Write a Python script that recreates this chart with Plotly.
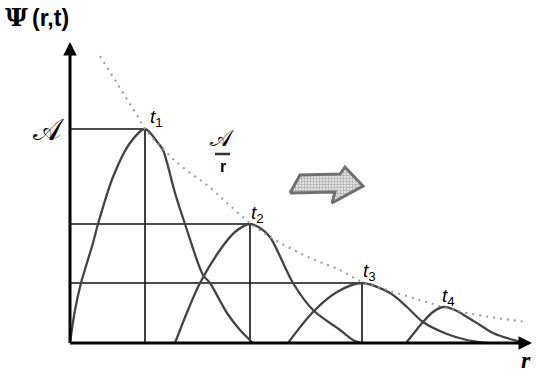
import plotly.graph_objects as go

# Pulse profiles psi(r) at four successive times t1..t4 (arbitrary units)
r_t1 = [0, 0.5, 1.1, 2.3, 2.8, 4.3, 6.0, 7.5, 8.8, 9.3, 10.5, 11.5, 13.3, 14.0, 15.7, 17.0, 18.3]
psi_t1 = [0, 3.3, 6.0, 10.0, 11.9, 16.6, 20.0, 21.4, 20.0, 19.3, 15.0, 11.9, 6.8, 6.0, 3.0, 1.3, 0]

r_t2 = [10.5, 11.8, 13.0, 15.0, 16.5, 18.0, 19.0, 20.0, 22.3, 24.3, 27.0, 28.3, 29.2]
psi_t2 = [0, 3.3, 6.0, 9.3, 11.1, 11.9, 11.5, 10.6, 6.0, 3.3, 1.3, 0.3, 0]

r_t3 = [21.8, 24.3, 26.7, 29.2, 32.0, 33.7, 35.3, 37.7, 39.7, 41.7]
psi_t3 = [0, 3.1, 5.1, 6.0, 5.0, 3.6, 2.1, 0.9, 0.3, 0]

r_t4 = [33.6, 34.4, 35.3, 36.3, 37.3, 38.5, 39.7, 41.0, 42.3, 44.0, 45.7]
psi_t4 = [0, 1.0, 2.1, 3.1, 3.6, 3.3, 2.6, 1.8, 1.0, 0.4, 0]

# Amplitude envelope A/r through the peaks
r_env = [3.0, 5.0, 6.8, 7.5, 9.7, 11.0, 12.3, 13.7, 15.7, 18.0, 20.0, 24.0, 27.0, 29.2,
         31.7, 35.0, 37.3, 39.7, 42.7, 45.7]
psi_env = [28.7, 25.5, 22.6, 21.4, 19.0, 17.8, 16.8, 15.8, 14.0, 12.0, 10.6, 8.5, 7.3, 6.1,
           5.3, 4.3, 3.6, 3.0, 2.5, 2.1]

# Peak positions and their labels
peak_r = [7.5, 18.0, 29.2, 37.3]
peak_psi = [21.4, 11.9, 6.0, 3.6]
peak_labels = ["1", "2", "3", "4"]
guided_peaks = 3  # peaks with drop lines to the axes

# Outline of the propagation-direction arrow
arrow_r = [22.0, 23.0, 27.0, 27.5, 29.3, 26.2, 26.5, 22.0]
arrow_psi = [15.0, 16.8, 16.9, 17.6, 15.7, 14.0, 15.1, 15.0]

axis_r_end = 46.2
axis_psi_end = 30.1

fig = go.Figure()

curve_style = dict(color="#444444", width=2.3, shape="spline", smoothing=0.85)
for rs, ps in [(r_t1, psi_t1), (r_t2, psi_t2), (r_t3, psi_t3), (r_t4, psi_t4)]:
    fig.add_trace(go.Scatter(x=rs, y=ps, mode="lines", line=curve_style,
                             hoverinfo="skip", showlegend=False))

# Envelope (dotted)
fig.add_trace(go.Scatter(x=r_env, y=psi_env, mode="lines",
                         line=dict(color="#9a9a9a", width=2, dash="2px,5px",
                                   shape="spline"),
                         hoverinfo="skip", showlegend=False))

# Drop lines from the first three peaks
for i in range(guided_peaks):
    fig.add_shape(type="line", x0=0, x1=peak_r[i], y0=peak_psi[i], y1=peak_psi[i],
                  line=dict(color="#111", width=1.6), layer="below")
    fig.add_shape(type="line", x0=peak_r[i], x1=peak_r[i], y0=0, y1=peak_psi[i],
                  line=dict(color="#111", width=1.6), layer="below")

# Direction arrow
fig.add_trace(go.Scatter(x=arrow_r, y=arrow_psi, mode="lines", fill="toself",
                         fillcolor="#d0d0d0",
                         fillpattern=dict(shape="+", size=3, solidity=0.4,
                                          fgcolor="#808080", bgcolor="#e0e0e0"),
                         line=dict(color="#707070", width=3),
                         hoverinfo="skip", showlegend=False))

annotations = []
# Axes with arrowheads
annotations.append(dict(x=0, y=axis_psi_end, ax=0, ay=-0.15, xref="x", yref="y",
                        axref="x", ayref="y", showarrow=True, arrowhead=2,
                        arrowsize=0.9, arrowwidth=3, arrowcolor="black", text=""))
annotations.append(dict(x=axis_r_end, y=0, ax=-0.15, ay=0, xref="x", yref="y",
                        axref="x", ayref="y", showarrow=True, arrowhead=2,
                        arrowsize=0.9, arrowwidth=3, arrowcolor="black", text=""))

# Peak labels t1..t4
label_pos = [(8.6, 22.5), (18.7, 12.9), (29.9, 7.1), (37.8, 4.6)]
for (lx, ly), lab in zip(label_pos, peak_labels):
    annotations.append(dict(x=lx, y=ly, xref="x", yref="y", showarrow=False,
                            xanchor="center", yanchor="middle",
                            text=f"<i>t</i><sub>{lab}</sub>",
                            font=dict(family="Liberation Sans", size=19, color="black")))

# Vertical axis title: Ψ(r,t)
annotations.append(dict(x=-4.0, y=32.6, xref="x", yref="y", showarrow=False,
                        xanchor="right", yanchor="middle", text="<b>Ψ</b>",
                        font=dict(family="DejaVu Serif", size=25, color="black")))
annotations.append(dict(x=-4.0, y=32.55, xref="x", yref="y", showarrow=False,
                        xanchor="left", yanchor="middle", text="<b>(r,t)</b>",
                        font=dict(family="Liberation Sans", size=23, color="black")))
# Horizontal axis title
annotations.append(dict(x=45.6, y=-1.7, xref="x", yref="y", showarrow=False,
                        xanchor="center", yanchor="middle", text="<i><b>r</b></i>",
                        font=dict(family="Liberation Serif", size=24, color="black")))

# Amplitude mark on the vertical axis
annotations.append(dict(x=-2.1, y=21.4, xref="x", yref="y", showarrow=False,
                        xanchor="center", yanchor="middle", text="𝒜",
                        font=dict(family="DejaVu Serif", size=30, color="black")))

# Envelope label A / r
annotations.append(dict(x=15.2, y=19.0, xref="x", yref="y", showarrow=False,
                        xanchor="center", yanchor="bottom", text="𝒜",
                        font=dict(family="DejaVu Serif", size=23, color="black")))
annotations.append(dict(x=15.3, y=18.75, xref="x", yref="y", showarrow=False,
                        xanchor="center", yanchor="top", text="<b>r</b>",
                        font=dict(family="Liberation Sans", size=16, color="black")))
fig.add_shape(type="line", x0=14.5, x1=16.0, y0=18.9, y1=18.9,
              line=dict(color="#333", width=2.5))

fig.update_layout(
    width=542, height=372,
    margin=dict(l=0, r=0, t=0, b=0),
    paper_bgcolor="white", plot_bgcolor="white",
    xaxis=dict(range=[-7.0, 47.2], visible=False, fixedrange=True),
    yaxis=dict(range=[-2.9, 34.3], visible=False, fixedrange=True),
    annotations=annotations,
    showlegend=False,
)

fig.write_html("out.html")
